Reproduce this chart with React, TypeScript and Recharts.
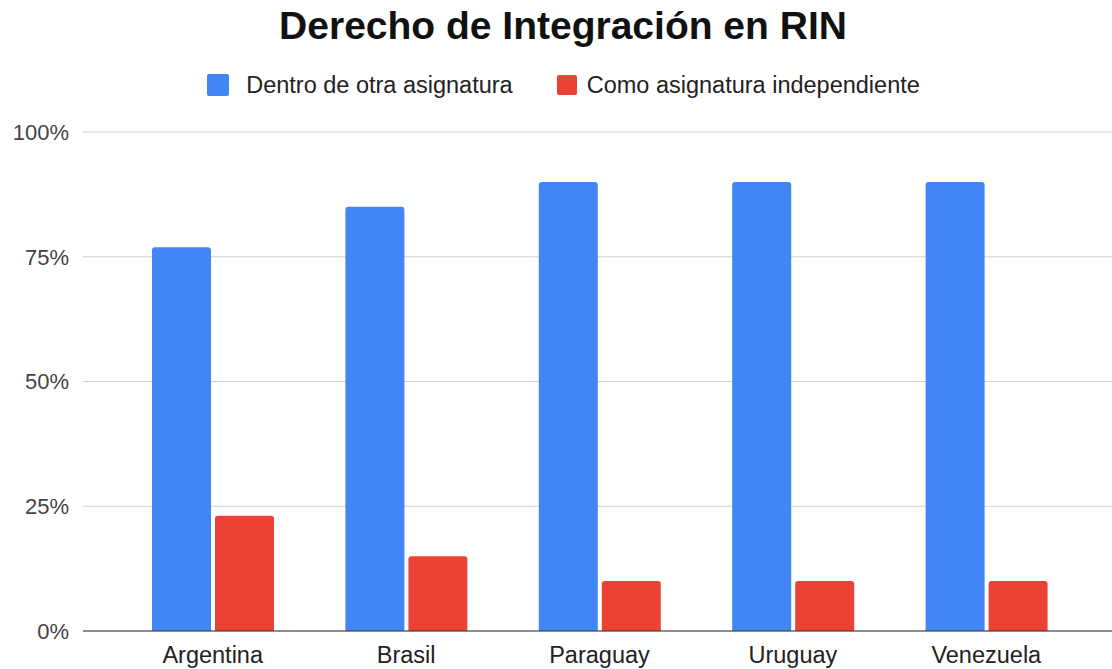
import React from 'react';
import { BarChart, Bar, XAxis, YAxis, CartesianGrid, Legend } from 'recharts';

const countries = ['Argentina', 'Brasil', 'Paraguay', 'Uruguay', 'Venezuela'];
const dentro = [76.9, 85, 90, 90, 90];
const independiente = [23.1, 15, 10, 10, 10];
const yTicks = [0, 25, 50, 75, 100];

const data = countries.map((name, i) => ({
  name,
  dentro: dentro[i],
  independiente: independiente[i],
}));

const font = '"Liberation Sans", Arial, sans-serif';

const renderLegend = () => (
  <div
    style={{
      display: 'flex',
      justifyContent: 'center',
      alignItems: 'center',
      fontFamily: font,
      fontSize: 23.5,
      lineHeight: '26px',
      color: '#222',
      paddingLeft: 15,
    }}
  >
    <span style={{ width: 22, height: 22, background: '#4285F4', borderRadius: 2, marginRight: 17, display: 'inline-block' }} />
    <span style={{ marginRight: 44 }}>Dentro de otra asignatura</span>
    <span style={{ width: 20, height: 20, background: '#EA4335', borderRadius: 2, marginRight: 10, display: 'inline-block' }} />
    <span>Como asignatura independiente</span>
  </div>
);

const App: React.FC = () => {
  return (
    <div style={{ position: 'absolute', left: 0, top: 0, width: 1112, height: 669, background: '#fff' }}>
      <div
        style={{
          position: 'absolute',
          top: 4,
          left: 7,
          width: 1112,
          textAlign: 'center',
          fontFamily: font,
          fontWeight: 700,
          fontSize: 39,
          color: '#111',
        }}
      >
        Derecho de Integración en RIN
      </div>
      <BarChart
        width={1112}
        height={669}
        data={data}
        margin={{ top: 132, right: 0, bottom: 0, left: 8 }}
        barGap={4}
        barCategoryGap={36}
      >
        <CartesianGrid vertical={false} stroke="#d0d0d0" />
        <XAxis
          dataKey="name"
          padding={{ left: 33, right: 29 }}
          stroke="#333"
          tickLine={false}
          tick={{ fill: '#222', fontSize: 23.5, fontFamily: font }}
          tickMargin={9}
          height={38}
        />
        <YAxis
          domain={[0, 100]}
          ticks={yTicks}
          tickFormatter={(v) => `${v}%`}
          axisLine={false}
          tickLine={false}
          width={75}
          tickMargin={8}
          tick={{ fill: '#444', fontSize: 22, fontFamily: font }}
        />
        <Legend
          layout="horizontal"
          verticalAlign="middle"
          align="center"
          wrapperStyle={{ top: 72, left: 0, width: 1112 }}
          content={renderLegend}
        />
        <Bar dataKey="dentro" fill="#4285F4" radius={[3, 3, 0, 0]} isAnimationActive={false} />
        <Bar dataKey="independiente" fill="#EA4335" radius={[3, 3, 0, 0]} isAnimationActive={false} />
      </BarChart>
    </div>
  );
};

export default App;
